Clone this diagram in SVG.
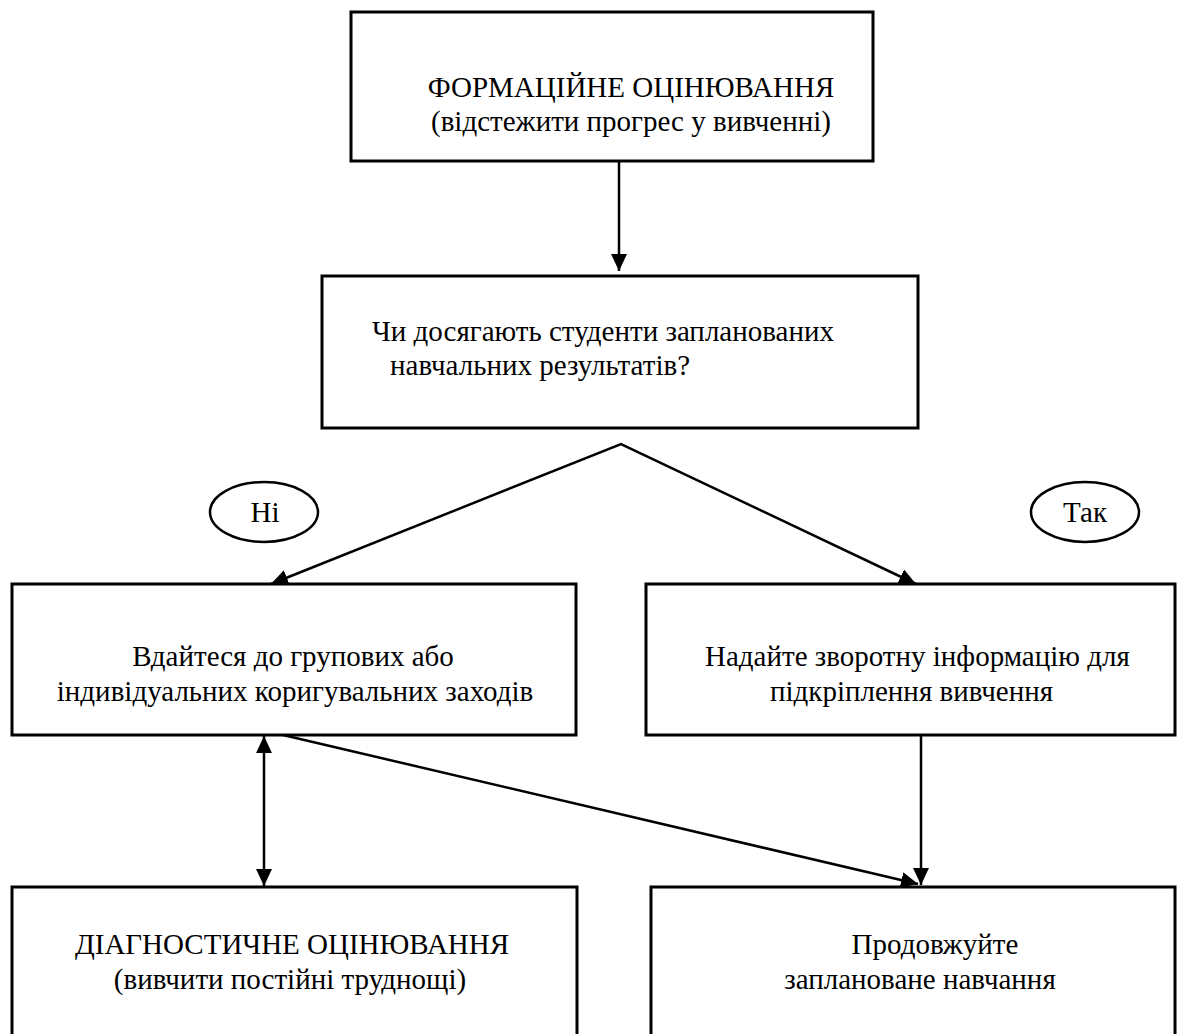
<svg xmlns="http://www.w3.org/2000/svg" width="1203" height="1034" viewBox="0 0 1203 1034">
<style>
.box{fill:#fff;stroke:#000;stroke-width:3}
.ell{fill:#fff;stroke:#000;stroke-width:2.5}
.t{font-family:'Liberation Serif','Times New Roman',serif;font-size:29px;fill:#000}
.c{text-anchor:middle}
.ln{stroke:#000;stroke-width:2.5;fill:none}
</style>
<defs>
<marker id="ah" viewBox="0 0 17 16" refX="17" refY="8" markerWidth="17" markerHeight="16" markerUnits="userSpaceOnUse" orient="auto-start-reverse">
<path d="M0,0 L17,8 L0,16 Z" fill="#000"/>
</marker>
</defs>
<rect width="1203" height="1034" fill="#fff"/>
<g id="connectors">
<line class="ln" x1="619" y1="161" x2="619" y2="271" marker-end="url(#ah)"/>
<polyline class="ln" points="271,584 621,444 916,584" marker-start="url(#ah)" marker-end="url(#ah)"/>
<line class="ln" x1="264" y1="736" x2="264" y2="886" marker-start="url(#ah)" marker-end="url(#ah)"/>
<line class="ln" x1="283" y1="735" x2="918" y2="884" marker-end="url(#ah)"/>
<line class="ln" x1="921" y1="735" x2="921" y2="885" marker-end="url(#ah)"/>
</g>
<g id="n1">
<rect class="box" x="351" y="12" width="522" height="149"/>
<text class="t c" x="631" y="97">ФОРМАЦІЙНЕ ОЦІНЮВАННЯ</text>
<text class="t c" x="631" y="131">(відстежити прогрес у вивченні)</text>
</g>
<g id="n2">
<rect class="box" x="322" y="276" width="596" height="152"/>
<text class="t" x="372" y="341">Чи досягають студенти запланованих</text>
<text class="t" x="390" y="375">навчальних результатів?</text>
</g>
<g id="ni">
<ellipse class="ell" cx="264" cy="512" rx="54" ry="30"/>
<text class="t c" x="265" y="522">Ні</text>
</g>
<g id="tak">
<ellipse class="ell" cx="1085" cy="512" rx="54" ry="30"/>
<text class="t c" x="1085" y="522">Так</text>
</g>
<g id="n3">
<rect class="box" x="12" y="584" width="564" height="151"/>
<text class="t c" x="293" y="666">Вдайтеся до групових або</text>
<text class="t c" x="295" y="701">індивідуальних коригувальних заходів</text>
</g>
<g id="n4">
<rect class="box" x="646" y="584" width="529" height="151"/>
<text class="t" x="705" y="666">Надайте зворотну інформацію для</text>
<text class="t" x="770" y="701">підкріплення вивчення</text>
</g>
<g id="n5">
<rect class="box" x="12" y="887" width="565" height="160"/>
<text class="t c" x="292" y="954">ДІАГНОСТИЧНЕ ОЦІНЮВАННЯ</text>
<text class="t c" x="290" y="989">(вивчити постійні труднощі)</text>
</g>
<g id="n6">
<rect class="box" x="651" y="887" width="524" height="160"/>
<text class="t c" x="935" y="954">Продовжуйте</text>
<text class="t c" x="920" y="989">заплановане навчання</text>
</g>
</svg>
